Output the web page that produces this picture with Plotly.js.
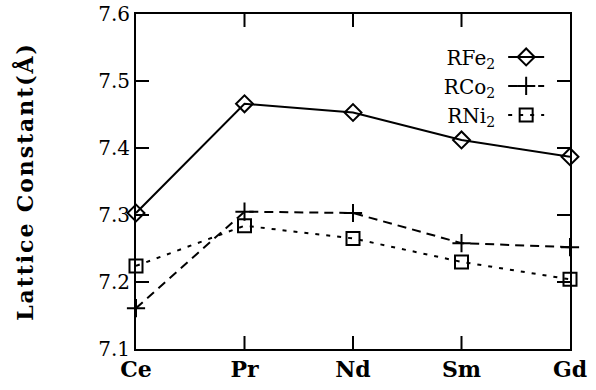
<!DOCTYPE html>
<html>
<head>
<meta charset="utf-8">
<script src="https://cdn.plot.ly/plotly-3.0.1.min.js"></script>
<style>
html,body{margin:0;padding:0;background:#fff;}
#chart{width:596px;height:390px;}
.g-ytitle text{letter-spacing:1.9px;}
</style>
</head>
<body>
<div id="chart"></div>
<script>
const categories = ['Ce', 'Pr', 'Nd', 'Sm', 'Gd'];
const rfe2 = [7.303, 7.466, 7.453, 7.412, 7.387];
const rco2 = [7.161, 7.305, 7.303, 7.258, 7.252];
const rni2 = [7.224, 7.284, 7.265, 7.230, 7.204];
const seriesNames = ['RFe<sub>2</sub>', 'RCo<sub>2</sub>', 'RNi<sub>2</sub>'];
const yTicks = [7.1, 7.2, 7.3, 7.4, 7.5, 7.6];

const serif = 'DejaVu Serif, Liberation Serif, serif';

const traces = [
  {x: categories, y: rfe2, mode: 'lines+markers', name: seriesNames[0], cliponaxis: false,
   line: {color: '#000', width: 2, dash: 'solid'},
   marker: {symbol: 'diamond-open', size: 13, color: '#000', line: {width: 2}}},
  {x: categories, y: rco2, mode: 'lines+markers', name: seriesNames[1], cliponaxis: false,
   line: {color: '#000', width: 2, dash: '9px,6px'},
   marker: {symbol: 'cross-thin-open', size: 13, color: '#000', line: {width: 2, color: '#000'}}},
  {x: categories, y: rni2, mode: 'lines+markers', name: seriesNames[2], cliponaxis: false,
   line: {color: '#000', width: 2, dash: '4px,7px'},
   marker: {symbol: 'square-open', size: 13, color: '#000', line: {width: 2}}}
];

// inward tick marks on all four sides of the frame, placed on the axes' own scales
const TL_X = 13 / 434, TL_Y = 13 / 335;
const tickLine = {color: '#000', width: 2};
const shapes = [];
categories.slice(1, -1).forEach(c => {
  shapes.push({type: 'line', xref: 'x', yref: 'paper', x0: c, x1: c, y0: 0, y1: TL_Y, line: tickLine});
  shapes.push({type: 'line', xref: 'x', yref: 'paper', x0: c, x1: c, y0: 1, y1: 1 - TL_Y, line: tickLine});
});
yTicks.slice(1, -1).forEach(v => {
  shapes.push({type: 'line', xref: 'paper', yref: 'y', x0: 0, x1: TL_X, y0: v, y1: v, line: tickLine});
  shapes.push({type: 'line', xref: 'paper', yref: 'y', x0: 1, x1: 1 - TL_X, y0: v, y1: v, line: tickLine});
});

const layout = {
  width: 596, height: 390,
  margin: {l: 136, r: 26, t: 14, b: 41, pad: 0, autoexpand: false},
  paper_bgcolor: '#fff', plot_bgcolor: '#fff',
  showlegend: true,
  legend: {x: 0.846, y: 0.93, xanchor: 'left', yanchor: 'top',
           bgcolor: 'rgba(0,0,0,0)', font: {family: serif, size: 20, color: '#000'},
           tracegroupgap: 0, itemwidth: 36},
  shapes: shapes,
  xaxis: {
    type: 'category', range: [0, 4],
    showline: true, linecolor: '#000', linewidth: 2, mirror: true,
    ticks: '', showgrid: false, zeroline: false,
    tickfont: {family: serif, size: 22, color: '#000', weight: 'bold'}
  },
  yaxis: {
    range: [7.1, 7.6], tickvals: yTicks, ticktext: yTicks.map(v => v.toFixed(1)),
    showline: true, linecolor: '#000', linewidth: 2, mirror: true,
    ticks: '', showgrid: false, zeroline: false,
    tickfont: {family: serif, size: 20, color: '#000'},
    title: {text: 'Lattice Constant(Å)', standoff: 58,
            font: {family: serif, size: 22, color: '#000', weight: 'bold'}}
  }
};

Plotly.newPlot('chart', traces, layout, {displayModeBar: false, staticPlot: true}).then(gd => {
  // legend labels sit to the left of their symbols, as in the reference
  gd.querySelectorAll('.legend .scrollbox').forEach(s => s.removeAttribute('clip-path'));
  gd.querySelectorAll('.legend .traces .legendtext').forEach(t => {
    t.setAttribute('text-anchor', 'end');
    t.setAttribute('x', '-8');
  });
});
</script>
</body>
</html>
